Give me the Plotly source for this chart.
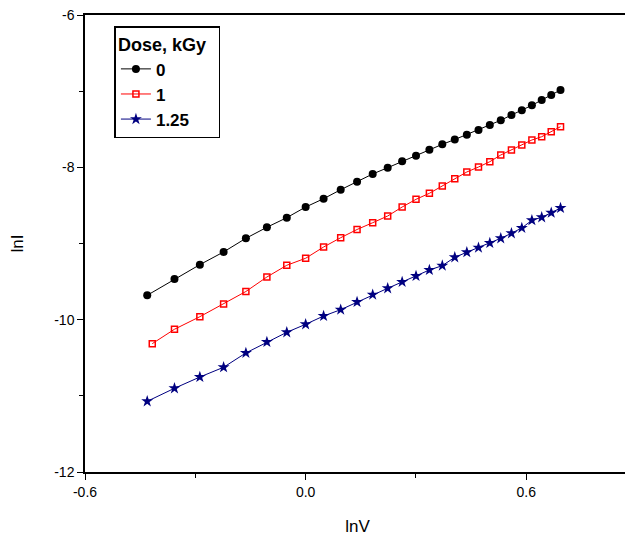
import plotly.graph_objects as go

# lnV values (V = 0.65 ... 2.00 V)
lnV = [-0.4308, -0.3567, -0.2877, -0.2231, -0.1625, -0.1054, -0.0513, 0.0000,
       0.0488, 0.0953, 0.1398, 0.1823, 0.2231, 0.2624, 0.3001, 0.3365,
       0.3716, 0.4055, 0.4383, 0.4700, 0.5008, 0.5306, 0.5596, 0.5878,
       0.6152, 0.6419, 0.6678, 0.6931]
lnV_red = [-0.4171] + lnV[1:]

lnI_0 = [-9.680, -9.466, -9.278, -9.111, -8.932, -8.787, -8.661, -8.521,
         -8.412, -8.294, -8.189, -8.087, -8.005, -7.921, -7.847, -7.768,
         -7.698, -7.635, -7.571, -7.510, -7.444, -7.382, -7.313, -7.251,
         -7.186, -7.116, -7.050, -6.985]
lnI_1 = [-10.315, -10.126, -9.961, -9.794, -9.630, -9.440, -9.286, -9.194,
         -9.046, -8.924, -8.816, -8.727, -8.639, -8.521, -8.420, -8.341,
         -8.245, -8.150, -8.061, -7.996, -7.926, -7.838, -7.772, -7.707,
         -7.641, -7.598, -7.532, -7.466]
lnI_125 = [-11.072, -10.901, -10.753, -10.625, -10.437, -10.293, -10.166, -10.061,
           -9.952, -9.869, -9.768, -9.672, -9.588, -9.505, -9.427, -9.348,
           -9.291, -9.181, -9.115, -9.055, -8.993, -8.932, -8.866, -8.796,
           -8.695, -8.656, -8.596, -8.534]

series_names = ["0", "1", "1.25"]
x_tickvals = [-0.6, 0.0, 0.6]
x_ticktext = ["-0.6", "0.0", "0.6"]
x_minor = [-0.3, 0.3]
y_tickvals = [-6, -8, -10, -12]
y_ticktext = ["-6", "-8", "-10", "-12"]
y_minor = [-7, -9, -11]

FONT = "Liberation Sans, Arial, sans-serif"

fig = go.Figure()
fig.add_trace(go.Scatter(x=lnV, y=lnI_0, name="<b>%s</b>" % series_names[0], mode="lines+markers",
                         line=dict(color="black", width=1),
                         marker=dict(symbol="circle", size=8, color="black")))
fig.add_trace(go.Scatter(x=lnV_red, y=lnI_1, name="<b>%s</b>" % series_names[1], mode="lines+markers",
                         line=dict(color="#ff0000", width=1),
                         marker=dict(symbol="square-open", size=6, color="#ff0000",
                                     line=dict(width=1.5, color="#ff0000"))))
fig.add_trace(go.Scatter(x=lnV, y=lnI_125, name="<b>%s</b>" % series_names[2], mode="lines+markers",
                         line=dict(color="#000080", width=1),
                         marker=dict(symbol="star", size=9, color="#000080")))

axis_common = dict(showgrid=False, zeroline=False, showline=True, linecolor="black",
                   linewidth=1.5, mirror=True, ticks="outside", ticklen=6, tickwidth=1,
                   tickcolor="black", automargin=False, ticklabeloverflow="allow",
                   tickfont=dict(family=FONT, size=14, color="black"))

fig.update_xaxes(range=[-0.6, 0.882], tickvals=x_tickvals, ticktext=x_ticktext,
                 minor=dict(tickvals=x_minor, ticks="outside", ticklen=4, tickcolor="black"),
                 title=dict(text="lnV", font=dict(family=FONT, size=17, color="black"), standoff=22),
                 **axis_common)
fig.update_yaxes(range=[-12, -6], tickvals=y_tickvals, ticktext=y_ticktext,
                 minor=dict(tickvals=y_minor, ticks="outside", ticklen=4, tickcolor="black"),
                 title=dict(text="lnI", font=dict(family=FONT, size=17, color="black"), standoff=29),
                 **axis_common)

fig.update_layout(
    width=625, height=531,
    margin=dict(l=77, r=3, t=7, b=67),
    plot_bgcolor="white", paper_bgcolor="white",
    font=dict(family=FONT, color="black"),
    legend=dict(x=0.054, y=0.975, xanchor="left", yanchor="top",
                title=dict(text="<b>Dose, kGy</b>\u00a0\u00a0", font=dict(family=FONT, size=18, color="black")),
                font=dict(family=FONT, size=17, color="black"),
                bordercolor="black", borderwidth=1.5, bgcolor="white",
                tracegroupgap=0, itemwidth=30),
)

fig.write_html("out.html")
